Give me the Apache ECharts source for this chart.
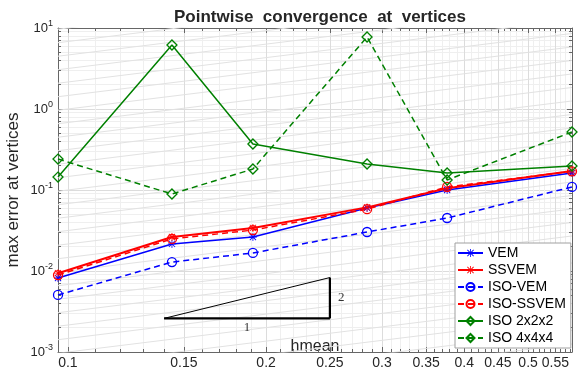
<!DOCTYPE html>
<html>
<head>
<meta charset="utf-8">
<script src="https://cdn.jsdelivr.net/npm/echarts@6/dist/echarts.min.js"></script>
<style>
  html, body { margin: 0; padding: 0; background: #fff; }
  #chart { width: 585px; height: 370px; }
</style>
</head>
<body>
<div id="chart"></div>
<script>
// Mean mesh size of each refinement level
const hmean = [0.0966, 0.1439, 0.191, 0.2847, 0.3767, 0.583];

// Max pointwise error at mesh vertices
const vem      = [0.0082, 0.0216, 0.0263, 0.060, 0.100, 0.162];
const ssvem    = [0.0094, 0.0263, 0.034, 0.061, 0.105, 0.172];
const isoVem   = [0.00506, 0.0129, 0.0167, 0.0303, 0.0451, 0.109];
const isoSsvem = [0.0089, 0.0249, 0.032, 0.058, 0.109, 0.170];
const iso2     = [0.1445, 6.17, 0.370, 0.2095, 0.162, 0.198];
const iso4     = [0.241, 0.0893, 0.1816, 7.74, 0.133, 0.52];

// Tick positions
const xTicks = [0.1, 0.15, 0.2, 0.25, 0.3, 0.35, 0.4, 0.45, 0.5, 0.55];
const yTicks = [0.001, 0.01, 0.1, 1, 10];

// Slope-2 reference triangle
const triX = [0.14, 0.25];
const triY = [0.0026, 0.0083];

const XMIN = hmean[0], XMAX = hmean[hmean.length - 1];
const YMIN = 0.001, YMAX = 10;

// minor ticks: every 0.01 on x, 2..9 per decade on y
const xMinor = [];
for (let k = 10; k <= 58; k++) if (k % 5 !== 0) xMinor.push(k / 100);
const yMinor = [];
for (let e = -3; e <= 0; e++) for (let m = 2; m <= 9; m++) yMinor.push(+(m * Math.pow(10, e)).toPrecision(3));

const AX = '#666666';
const TXT = '#262626';
const FONT = 'Liberation Sans, Arial, Helvetica, sans-serif';

const asterisk = 'path://M0 9L20 9L20 11L0 11Z M9 0L11 0L11 20L9 20Z M2.9 1.5L18.5 17.1L17.1 18.5L1.5 2.9Z M17.1 1.5L18.5 2.9L2.9 18.5L1.5 17.1Z';

const pts = ys => hmean.map((h, i) => [h, ys[i]]);

function dataSeries(name, ys, color, dashed, symbol, size, width) {
  const hollow = symbol !== asterisk;
  return {
    name, type: 'line', data: pts(ys), z: 5,
    symbol, symbolSize: size, showSymbol: true,
    lineStyle: { color, width, type: dashed ? [6, 4] : 'solid' },
    itemStyle: hollow
      ? { color: 'rgba(255,255,255,0)', borderColor: color, borderWidth: 1.3 }
      : { color, borderWidth: 0 },
    emphasis: { disabled: true },
    animation: false
  };
}

// light diagonal guides of slope 1 (error ~ h)
const guides = [];
for (let k = -17; k <= 12; k++) {
  const c = Math.pow(10, k / 6);
  guides.push({
    type: 'line', silent: true, symbol: 'none', z: 1,
    data: [[XMIN, c * XMIN], [XMAX, c * XMAX]],
    lineStyle: { color: '#e2e2e2', width: 1 },
    animation: false
  });
}

const triangle = [
  { data: [[triX[0], triY[0]], [triX[1], triY[0]]], width: 2.2 },
  { data: [[triX[1], triY[0]], [triX[1], triY[1]]], width: 2.2 },
  { data: [[triX[0], triY[0]], [triX[1], triY[1]]], width: 1 }
].map(s => ({
  type: 'line', silent: true, symbol: 'none', z: 4, data: s.data,
  lineStyle: { color: '#000', width: s.width }, animation: false
}));

const slopeLabels = {
  type: 'scatter', silent: true, symbolSize: 0, z: 6, animation: false,
  data: [
    { value: [Math.sqrt(triX[0] * triX[1]), triY[0]], label: { formatter: '1', position: 'bottom', distance: 3 } },
    { value: [triX[1], Math.sqrt(triY[0] * triY[1])], label: { formatter: '2', position: 'right', distance: 8 } }
  ],
  label: { show: true, fontFamily: 'Liberation Serif, Times New Roman, serif', fontSize: 13, color: '#000' }
};

const gridRect = { left: 58, right: 13, top: 28, bottom: 18, outerBoundsMode: 'none', containLabel: false };

function logX(extra) {
  return Object.assign({ type: 'log', min: XMIN, max: XMAX, logBase: 10 }, extra);
}
function logY(extra) {
  return Object.assign({ type: 'log', min: YMIN, max: YMAX, logBase: 10 }, extra);
}
const noLine = { show: false };
const noLabel = { show: false };
const noSplit = { show: false };

const option = {
  backgroundColor: '#fff',
  textStyle: { fontFamily: FONT },
  title: {
    text: 'Pointwise  convergence  at  vertices',
    left: 315, top: 4, textAlign: 'center',
    textStyle: { fontSize: 17, fontWeight: 'bold', color: TXT, fontFamily: FONT }
  },
  grid: [Object.assign({}, gridRect), Object.assign({}, gridRect)],
  xAxis: [
    logX({
      gridIndex: 0, position: 'bottom',
      name: 'hmean', nameLocation: 'middle', nameGap: -13, nameMoveOverlap: false,
      nameTextStyle: { fontSize: 16, color: TXT, fontFamily: FONT },
      axisLine: { show: true, lineStyle: { color: AX, width: 1 } },
      axisTick: { show: true, inside: true, length: 5, customValues: xTicks, lineStyle: { color: AX } },
      axisLabel: { show: true, customValues: xTicks, formatter: v => String(+v.toFixed(2)), fontSize: 14, color: TXT, margin: 4, hideOverlap: false },
      splitLine: { show: true, lineStyle: { color: '#dcdcdc', width: 1 } },
      minorTick: { show: false }, minorSplitLine: { show: false }
    }),
    logX({
      gridIndex: 0, position: 'top',
      axisLine: { show: true, lineStyle: { color: AX, width: 1 } },
      axisTick: { show: true, inside: true, length: 5, customValues: xTicks, lineStyle: { color: AX } },
      axisLabel: noLabel, splitLine: noSplit
    }),
    logX({
      gridIndex: 1, position: 'bottom',
      axisLine: noLine,
      axisTick: { show: true, inside: true, length: 3, customValues: xMinor, lineStyle: { color: AX } },
      axisLabel: noLabel,
      splitLine: { show: true, lineStyle: { color: '#efefef', width: 1 } }
    }),
    logX({
      gridIndex: 1, position: 'top',
      axisLine: noLine,
      axisTick: { show: true, inside: true, length: 3, customValues: xMinor, lineStyle: { color: AX } },
      axisLabel: noLabel, splitLine: noSplit
    })
  ],
  yAxis: [
    logY({
      gridIndex: 0, position: 'left',
      name: 'max error at vertices', nameLocation: 'middle', nameGap: 36, nameRotate: 90, nameMoveOverlap: false,
      nameTextStyle: { fontSize: 17, color: TXT, fontFamily: FONT },
      axisLine: { show: true, lineStyle: { color: AX, width: 1 } },
      axisTick: { show: true, inside: true, length: 5, customValues: yTicks, lineStyle: { color: AX } },
      axisLabel: {
        show: true, customValues: yTicks, margin: 5, color: TXT,
        formatter: v => '{b|10}{s|' + Math.round(Math.log10(v)) + '}',
        rich: {
          b: { fontSize: 13, color: TXT, fontFamily: FONT },
          s: { fontSize: 9, color: TXT, fontFamily: FONT, padding: [0, 0, 9, 0] }
        }
      },
      splitLine: { show: true, lineStyle: { color: '#dcdcdc', width: 1 } },
      minorTick: { show: false }, minorSplitLine: { show: false }
    }),
    logY({
      gridIndex: 0, position: 'right',
      axisLine: { show: true, lineStyle: { color: AX, width: 1 } },
      axisTick: { show: true, inside: true, length: 5, customValues: yTicks, lineStyle: { color: AX } },
      axisLabel: noLabel, splitLine: noSplit
    }),
    logY({
      gridIndex: 1, position: 'left',
      axisLine: noLine,
      axisTick: { show: true, inside: true, length: 3, customValues: yMinor, lineStyle: { color: AX } },
      axisLabel: noLabel,
      splitLine: { show: true, lineStyle: { color: '#efefef', width: 1 } }
    }),
    logY({
      gridIndex: 1, position: 'right',
      axisLine: noLine,
      axisTick: { show: true, inside: true, length: 3, customValues: yMinor, lineStyle: { color: AX } },
      axisLabel: noLabel, splitLine: noSplit
    })
  ],
  legend: {
    left: 455, top: 243,
    orient: 'vertical',
    data: ['VEM', 'SSVEM', 'ISO-VEM', 'ISO-SSVEM', 'ISO 2x2x2', 'ISO 4x4x4'],
    backgroundColor: '#fff', borderColor: '#a0a0a0', borderWidth: 1,
    padding: [3, 5, 3, 2], itemGap: 3, itemWidth: 25, itemHeight: 10,
    textStyle: { fontSize: 14, color: '#000', fontFamily: FONT, lineHeight: 14 },
    selectedMode: false, z: 10
  },
  series: [
    ...guides,
    ...triangle,
    slopeLabels,
    dataSeries('VEM', vem, '#0000ff', false, asterisk, 8, 1.5),
    dataSeries('SSVEM', ssvem, '#ff0000', false, asterisk, 8, 2),
    dataSeries('ISO-VEM', isoVem, '#0000ff', true, 'circle', 9, 1.5),
    dataSeries('ISO-SSVEM', isoSsvem, '#ff0000', true, 'circle', 9, 1.5),
    dataSeries('ISO 2x2x2', iso2, '#008000', false, 'diamond', 10, 1.5),
    dataSeries('ISO 4x4x4', iso4, '#008000', true, 'diamond', 10, 1.5)
  ]
};

const chart = echarts.init(document.getElementById('chart'), null, { renderer: 'canvas' });
chart.setOption(option);
</script>
</body>
</html>
